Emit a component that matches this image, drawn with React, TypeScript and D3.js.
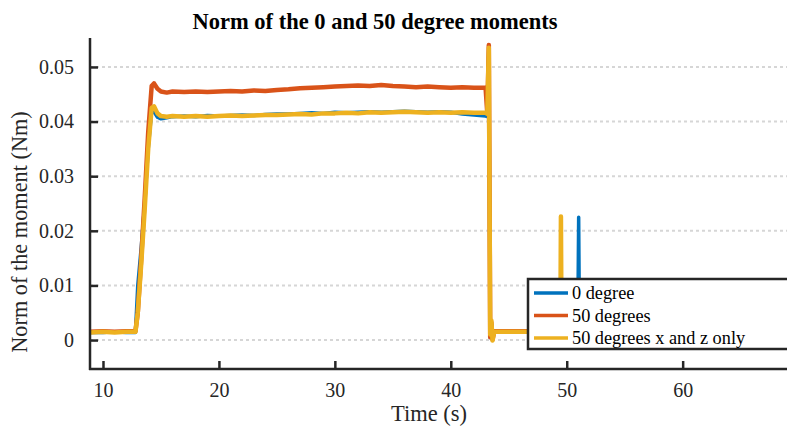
import { useEffect, useRef } from 'react'
import * as d3 from 'd3'

// shared time base (s)
const time = [
  8.9, 10, 11, 12, 12.8, 13.0, 13.3, 13.6, 13.9, 14.2, 14.4, 14.7, 15.0, 15.5, 16, 17, 18, 19, 20,
  21, 22, 23, 24, 25, 26, 27, 28, 29, 30, 31, 32, 33, 34, 35, 36, 37, 38, 39, 40, 41, 42, 43,
  43.15, 43.28, 43.4, 43.5, 43.6, 43.75, 45, 47, 49, 49.45, 49.5, 49.55, 50, 50.95, 51.03, 51.1, 52, 54, 56,
]

const deg0 = [
  0.0014, 0.0014, 0.0015, 0.0014, 0.0014, 0.0100, 0.0170, 0.0250, 0.0350, 0.0420, 0.0418, 0.0408, 0.0405, 0.0407, 0.0409, 0.0410, 0.0409, 0.0411, 0.0410,
  0.0411, 0.0412, 0.0411, 0.0413, 0.0414, 0.0414, 0.0415, 0.0416, 0.0415, 0.0417, 0.0416, 0.0417, 0.0418, 0.0417, 0.0418, 0.0419, 0.0418, 0.0417, 0.0418, 0.0417, 0.0414, 0.0412, 0.0410,
  0.0409, 0.0538, 0.0004, 0.0030, 0.0002, 0.0015, 0.0015, 0.0015, 0.0015, 0.0015, 0.0015, 0.0015, 0.0015, 0.0015, 0.0225, 0.0015, 0.0015, 0.0015, 0.0015,
]

const deg50 = [
  0.0015, 0.0016, 0.0015, 0.0016, 0.0016, 0.0050, 0.0150, 0.0260, 0.0380, 0.0465, 0.0470, 0.0460, 0.0455, 0.0453, 0.0455, 0.0454, 0.0455, 0.0454, 0.0455,
  0.0456, 0.0455, 0.0457, 0.0456, 0.0458, 0.0459, 0.0461, 0.0462, 0.0463, 0.0464, 0.0465, 0.0466, 0.0465, 0.0467, 0.0465, 0.0464, 0.0463, 0.0464, 0.0463, 0.0462, 0.0463, 0.0462, 0.0462,
  0.0415, 0.0540, 0.0005, 0.0032, 0.0001, 0.0016, 0.0016, 0.0016, 0.0016, 0.0016, 0.0016, 0.0016, 0.0016, 0.0016, 0.0016, 0.0016, 0.0016, 0.0016, 0.0016,
]

const deg50xz = [
  0.0014, 0.0015, 0.0014, 0.0015, 0.0015, 0.0050, 0.0140, 0.0240, 0.0350, 0.0425, 0.0428, 0.0415, 0.0410, 0.0409, 0.0410, 0.0409, 0.0410, 0.0409, 0.0410,
  0.0411, 0.0410, 0.0411, 0.0412, 0.0412, 0.0413, 0.0414, 0.0413, 0.0415, 0.0415, 0.0416, 0.0415, 0.0417, 0.0416, 0.0417, 0.0418, 0.0417, 0.0416, 0.0417, 0.0416, 0.0417, 0.0416, 0.0416,
  0.0414, 0.0535, 0.0010, 0.0036, -0.0001, 0.0015, 0.0015, 0.0015, 0.0015, 0.0015, 0.0226, 0.0015, 0.0015, 0.0015, 0.0015, 0.0015, 0.0015, 0.0015, 0.0015,
]

const seriesNames = ['0 degree', '50 degrees', '50 degrees x and z only']
const seriesColors = ['#0072BD', '#D95319', '#EDB120']
const yTicks = [0, 0.01, 0.02, 0.03, 0.04, 0.05]
const xTicks = [10, 20, 30, 40, 50, 60]

const FONT = '"Liberation Serif", "DejaVu Serif", serif'
const INK = '#262626'

export default function App() {
  const svgRef = useRef<SVGSVGElement>(null)
  const width = 787
  const height = 430

  useEffect(() => {
    const svg = d3.select(svgRef.current)
    svg.selectAll('*').remove()

    const left = 90, right = 787, top = 38, bottom = 369
    const x = d3.scaleLinear().domain([8.88, 69.0]).range([left, right])
    const y = d3.scaleLinear().domain([-0.0053, 0.0553]).range([bottom, top])

    svg.append('defs').append('clipPath').attr('id', 'plot-clip')
      .append('rect')
      .attr('x', left).attr('y', top)
      .attr('width', right - left).attr('height', bottom - top)

    // horizontal dotted grid
    svg.append('g')
      .selectAll('line')
      .data(yTicks)
      .enter().append('line')
      .attr('x1', left).attr('x2', right)
      .attr('y1', d => y(d)).attr('y2', d => y(d))
      .attr('stroke', '#d6d6d6')
      .attr('stroke-width', 2)
      .attr('stroke-dasharray', '3,3')

    const allSeries = [deg0, deg50, deg50xz]
    const line = d3.line<number>()
      .x((_, i) => x(time[i]))
      .y(d => y(d))

    const plot = svg.append('g').attr('clip-path', 'url(#plot-clip)')
    allSeries.forEach((vals, k) => {
      plot.append('path')
        .datum(vals)
        .attr('fill', 'none')
        .attr('stroke', seriesColors[k])
        .attr('stroke-width', k === 0 ? 3.5 : 4.5)
        .attr('stroke-linejoin', 'round')
        .attr('d', line)
    })

    // axes
    const yAxis = svg.append('g')
      .attr('transform', `translate(${left},0)`)
      .call(d3.axisLeft(y).tickValues(yTicks).tickSize(-8).tickPadding(16)
        .tickFormat(d => (d as number) === 0 ? '0' : d3.format('.2f')(d as number)))
    const xAxis = svg.append('g')
      .attr('transform', `translate(0,${bottom})`)
      .call(d3.axisBottom(x).tickValues(xTicks).tickSize(-8).tickPadding(14).tickFormat(d3.format('d')))

    ;[yAxis, xAxis].forEach(ax => {
      ax.attr('font-family', FONT).attr('font-size', 20)
      ax.select('.domain').remove()
      ax.selectAll('line').attr('stroke', INK).attr('stroke-width', 2.5)
      ax.selectAll('text')
        .attr('fill', INK)
        .attr('font-family', FONT)
        .attr('font-size', 20)
    })

    svg.append('line')
      .attr('x1', left).attr('x2', left).attr('y1', top).attr('y2', bottom + 1)
      .attr('stroke', INK).attr('stroke-width', 2.5)
    svg.append('line')
      .attr('x1', left - 1).attr('x2', right).attr('y1', bottom).attr('y2', bottom)
      .attr('stroke', INK).attr('stroke-width', 2.5)

    // title and labels
    svg.append('text')
      .attr('x', 375).attr('y', 29)
      .attr('text-anchor', 'middle')
      .attr('font-family', FONT)
      .attr('font-weight', 'bold')
      .attr('font-size', 22.5)
      .attr('fill', '#000')
      .text('Norm of the 0 and 50 degree moments')

    svg.append('text')
      .attr('x', 429).attr('y', 421)
      .attr('text-anchor', 'middle')
      .attr('font-family', FONT)
      .attr('font-size', 22.5)
      .attr('fill', INK)
      .text('Time (s)')

    svg.append('text')
      .attr('transform', 'translate(27,232) rotate(-90)')
      .attr('text-anchor', 'middle')
      .attr('font-family', FONT)
      .attr('font-size', 22.3)
      .attr('fill', INK)
      .text('Norm of the moment (Nm)')

    // legend
    const lg = svg.append('g')
    lg.append('rect')
      .attr('x', 528).attr('y', 279)
      .attr('width', 262).attr('height', 70)
      .attr('fill', '#fff')
      .attr('stroke', INK)
      .attr('stroke-width', 2.5)
    seriesNames.forEach((name, k) => {
      const cy = 293 + k * 22.5
      lg.append('line')
        .attr('x1', 534).attr('x2', 568)
        .attr('y1', cy).attr('y2', cy)
        .attr('stroke', seriesColors[k])
        .attr('stroke-width', 3.5)
      lg.append('text')
        .attr('x', 572).attr('y', cy + 6)
        .attr('font-family', FONT)
        .attr('font-size', 18.3)
        .attr('fill', '#000')
        .text(name)
    })
  }, [])

  return (
    <svg
      ref={svgRef}
      width={width}
      height={height}
      style={{ display: 'block', position: 'absolute', left: 0, top: 0, background: '#fff' }}
    />
  )
}
